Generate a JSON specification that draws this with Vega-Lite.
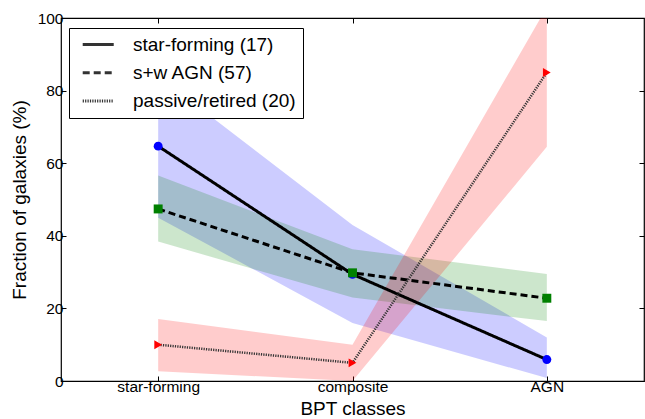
{
  "$schema": "https://vega.github.io/schema/vega-lite/v6.json",
  "width": 583,
  "height": 363,
  "autosize": {"type": "none"},
  "padding": {"left": 61, "top": 18, "right": 1, "bottom": 38},
  "config": {
    "view": {"stroke": "black", "strokeWidth": 1.2},
    "font": "Liberation Sans",
    "axis": {
      "grid": false,
      "domain": false,
      "tickColor": "black",
      "tickSize": -5,
      "tickWidth": 1,
      "labelColor": "black",
      "titleColor": "black",
      "labelFontSize": 15.5,
      "titleFontSize": 19,
      "titleFontWeight": "normal",
      "labelFont": "Liberation Sans",
      "titleFont": "Liberation Sans"
    }
  },
  "data": {
    "values": [
      {"cls": "star-forming", "group": "star-forming (17)", "v": 64.7, "lo": 45.0, "hi": 84.0},
      {"cls": "composite", "group": "star-forming (17)", "v": 29.4, "lo": 16.0, "hi": 43.0},
      {"cls": "AGN", "group": "star-forming (17)", "v": 5.9, "lo": 0.8, "hi": 12.0},
      {"cls": "star-forming", "group": "s+w AGN (57)", "v": 47.4, "lo": 38.4, "hi": 56.6},
      {"cls": "composite", "group": "s+w AGN (57)", "v": 29.8, "lo": 23.0, "hi": 36.3},
      {"cls": "AGN", "group": "s+w AGN (57)", "v": 22.8, "lo": 16.5, "hi": 29.5},
      {"cls": "star-forming", "group": "passive/retired (20)", "v": 10.0, "lo": 2.7, "hi": 17.1},
      {"cls": "composite", "group": "passive/retired (20)", "v": 5.0, "lo": 0.0, "hi": 10.0},
      {"cls": "AGN", "group": "passive/retired (20)", "v": 85.0, "lo": 64.5, "hi": 103.0}
    ]
  },
  "layer": [
    {
      "mark": {"type": "area", "opacity": 0.2, "clip": true},
      "encoding": {
        "x": {"field": "cls", "type": "nominal", "sort": ["star-forming", "composite", "AGN"],
              "scale": {"type": "point", "padding": 0.5},
              "axis": {"title": "BPT classes", "labelAngle": 0, "labelPadding": 3, "titlePadding": 5}},
        "y": {"field": "lo", "type": "quantitative", "scale": {"domain": [0, 100], "nice": false},
              "axis": {"title": "Fraction of galaxies (%)", "values": [0, 20, 40, 60, 80, 100], "labelPadding": 3, "titlePadding": 8}},
        "y2": {"field": "hi"},
        "fill": {"field": "group", "type": "nominal",
                  "scale": {"range": ["#ff0000", "#008000", "#0000ff"]},
                  "legend": null}
      }
    },
    {
      "transform": [{"filter": "datum.group != 'passive/retired (20)'"}],
      "mark": {"type": "line", "color": "black", "strokeWidth": 3},
      "encoding": {
        "x": {"field": "cls", "type": "nominal", "sort": ["star-forming", "composite", "AGN"], "axis": null},
        "y": {"field": "v", "type": "quantitative", "axis": null},
        "strokeDash": {"field": "group", "type": "nominal",
                       "scale": {"domain": ["star-forming (17)", "s+w AGN (57)", "passive/retired (20)"], "range": [[1, 0], [7, 4], [1.2, 1.2]]},
                       "legend": {
                         "title": null,
                         "orient": "none",
                         "legendX": 8,
                         "legendY": 10,
                         "symbolType": "M-0.45,0H4.55",
                         "symbolSize": 154,
                         "symbolStrokeColor": "black",
                         "symbolStrokeWidth": 3,
                         "labelFontSize": 19,
                         "labelFont": "Liberation Sans",
                         "labelColor": "black",
                         "labelLimit": 400,
                         "labelOffset": 38,
                         "padding": 7,
                         "rowPadding": 8.2,
                         "strokeColor": "black",
                         "fillColor": "white",
                         "cornerRadius": 0
                       }}
      }
    },
    {
      "transform": [{"filter": "datum.group == 'passive/retired (20)'"}],
      "mark": {"type": "line", "color": "#333333", "strokeWidth": 2.5},
      "encoding": {
        "x": {"field": "cls", "type": "nominal", "sort": ["star-forming", "composite", "AGN"], "axis": null},
        "y": {"field": "v", "type": "quantitative", "axis": null},
        "strokeDash": {"field": "group", "type": "nominal"}
      }
    },
    {
      "mark": {"type": "point", "filled": true, "opacity": 1, "size": 80},
      "encoding": {
        "x": {"field": "cls", "type": "nominal", "sort": ["star-forming", "composite", "AGN"], "axis": null},
        "y": {"field": "v", "type": "quantitative", "axis": null},
        "fill": {"field": "group", "type": "nominal", "legend": null},
        "shape": {"field": "group", "type": "nominal",
                  "scale": {"range": ["triangle-right", "square", "circle"]},
                  "legend": null}
      }
    },
    {
      "mark": {"type": "point", "opacity": 0},
      "encoding": {
        "x": {"field": "cls", "type": "nominal", "sort": ["star-forming", "composite", "AGN"],
              "axis": {"orient": "top", "labels": false, "title": null}},
        "y": {"field": "v", "type": "quantitative",
              "axis": {"orient": "right", "labels": false, "title": null, "values": [0, 20, 40, 60, 80, 100]}}
      }
    }
  ],
  "resolve": {"axis": {"x": "independent", "y": "independent"}}
}
